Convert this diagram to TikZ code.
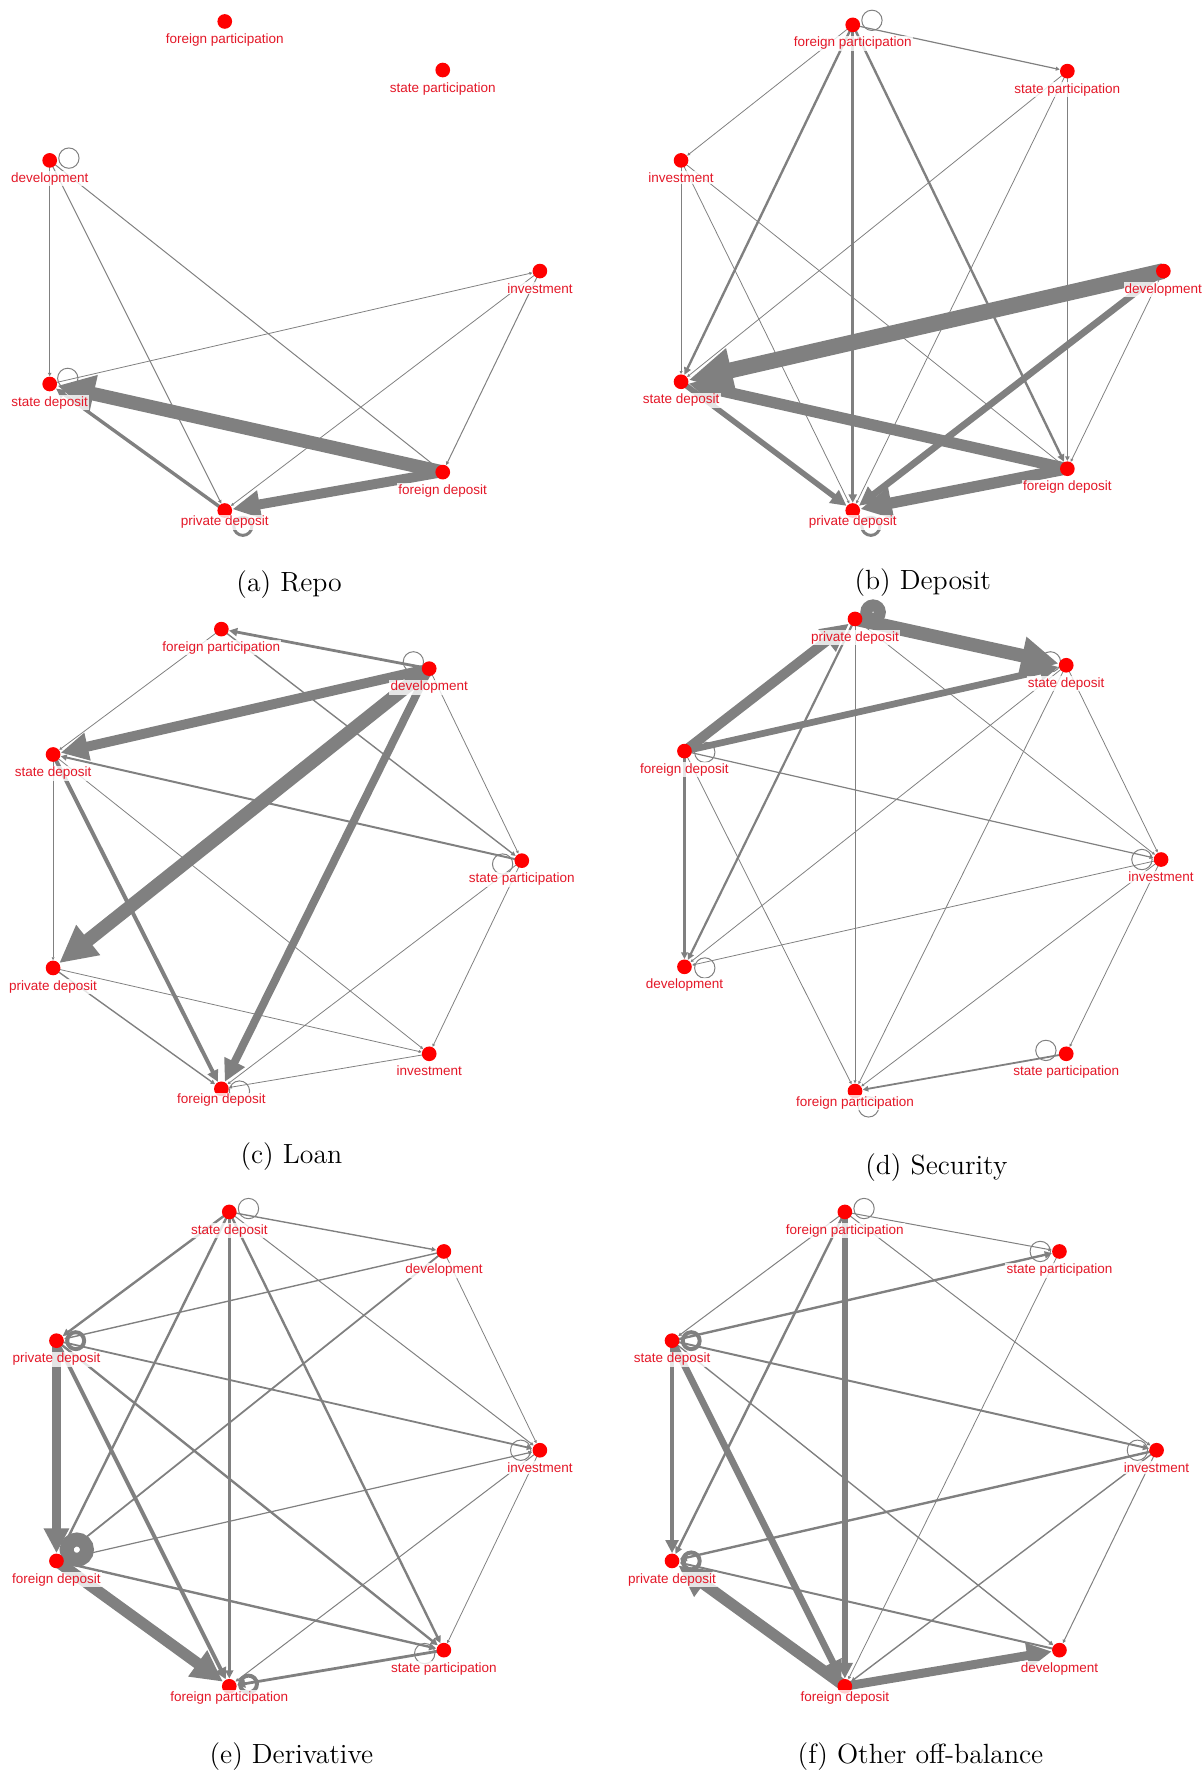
\documentclass[tikz,border=0pt]{standalone}
\usepackage{fontspec}
\newfontfamily\lblfont{Liberation Sans}
\usetikzlibrary{positioning,arrows.meta}
\definecolor{dotred}{RGB}{255,0,0}
\definecolor{txtred}{RGB}{228,24,40}
\definecolor{edgegray}{RGB}{128,128,128}
\pgfdeclarelayer{bg}
\pgfsetlayers{bg,main}
\tikzset{
   dot/.style={circle, fill=dotred, inner sep=0pt, minimum size=0.26cm},
   lbl/.style={font=\lblfont\fontsize{6.8}{8}\selectfont, text=txtred, fill=white,
      fill opacity=0.8, text opacity=1, inner sep=0.6pt},
   link/.style={draw=edgegray, line width=#1pt, -{Triangle[length=0.4pt 2.7, width=0.4pt 2.6]}},
   selfloop/.style={draw=edgegray, line width=#1pt},
   captext/.style={font=\fontsize{14}{16}\selectfont},
}
\begin{document}
\begin{tikzpicture}[x=0.02cm, y=-0.02cm]
   \useasboundingbox (0,0) rectangle (1064,1568);

   % (a) Repo
   \foreach \n/\x/\y/\t/\g in {fp/199/19/foreign participation/1.5pt, sp/392/62/state participation/1.5pt,
         dev/44/142/development/1.5pt, inv/478/240/investment/1.5pt, sd/44/340/state deposit/1.5pt,
         fd/392/418/foreign deposit/1.5pt, pd/199/452/private deposit/-2pt} {
      \node[dot] (a-\n) at (\x,\y) {};
      \node[lbl, below=\g of a-\n] (a-\n-l) {\t};
   }
   \begin{pgfonlayer}{bg}
      \foreach \s/\t/\w in {fd/sd/6.8, fd/pd/5, pd/sd/1.7, dev/sd/0.5, dev/pd/0.5, dev/fd/0.5,
            sd/inv/0.4, inv/pd/0.4, inv/fd/0.5}
         \draw[link=\w] (a-\s.center) -- (a-\t);
      \draw[selfloop=0.5] ([shift={(17,-2)}]a-dev.center) circle[radius=0.18cm];
      \draw[selfloop=0.5] ([shift={(16,-5)}]a-sd.center) circle[radius=0.18cm];
      \draw[selfloop=1.5] ([shift={(16,14)}]a-pd.center) circle[radius=0.16cm];
   \end{pgfonlayer}
   \node[captext] (cap-a) at (256,518) {(a) Repo};

   % (b) Deposit
   \foreach \n/\x/\y/\t/\g in {fp/755/22/foreign participation/1.5pt, sp/945/63/state participation/1.5pt,
         inv/603/142/investment/1.5pt, dev/1030/240/development/1.5pt, sd/603/338/state deposit/1.5pt,
         fd/945/415/foreign deposit/1.5pt, pd/755/452/private deposit/-2pt} {
      \node[dot] (b-\n) at (\x,\y) {};
      \node[lbl, below=\g of b-\n] (b-\n-l) {\t};
   }
   \begin{pgfonlayer}{bg}
      \foreach \s/\t/\w in {dev/sd/8, fd/sd/5.7, fd/pd/5.7, dev/pd/3.4, sd/pd/2.8, fp/pd/1.4, fp/sd/1.2,
            fp/fd/1.2, sp/fd/0.7, fp/sp/0.6, fp/inv/0.4, sp/sd/0.4, sp/pd/0.4, inv/sd/0.4, inv/pd/0.4,
            inv/fd/0.4, dev/fd/0.4}
         \draw[link=\w] (b-\s.center) -- (b-\t);
      \draw[selfloop=0.5] ([shift={(17,-4)}]b-fp.center) circle[radius=0.18cm];
      \draw[selfloop=1.5] ([shift={(16,14)}]b-pd.center) circle[radius=0.16cm];
   \end{pgfonlayer}
   \node[captext] (cap-b) at (817,516) {(b) Deposit};

   % (c) Loan
   \foreach \n/\x/\y/\t/\g in {fp/196/557/foreign participation/1.5pt, dev/380/592/development/1.5pt,
         sd/47/668/state deposit/1.5pt, sp/462/762/state participation/1.5pt, pd/47/857/private deposit/1.5pt,
         inv/380/933/investment/1.5pt, fd/196/964/foreign deposit/-2pt} {
      \node[dot] (c-\n) at (\x,\y) {};
      \node[lbl, below=\g of c-\n] (c-\n-l) {\t};
   }
   \begin{pgfonlayer}{bg}
      \foreach \s/\t/\w in {dev/pd/6.8, dev/sd/5, dev/fd/4, sd/fd/2, dev/fp/1.4, sp/sd/1, fp/sp/0.7,
            pd/fd/0.7, fp/sd/0.4, dev/sp/0.4, sd/pd/0.4, sd/inv/0.4, sp/fd/0.4, sp/inv/0.4, pd/inv/0.4,
            inv/fd/0.4}
         \draw[link=\w] (c-\s.center) -- (c-\t);
      \draw[selfloop=0.5] ([shift={(-14,-6)}]c-dev.center) circle[radius=0.18cm];
      \draw[selfloop=0.5] ([shift={(-17,3)}]c-sp.center) circle[radius=0.18cm];
      \draw[selfloop=0.5] ([shift={(16,2)}]c-fd.center) circle[radius=0.18cm];
   \end{pgfonlayer}
   \node[captext] (cap-c) at (258,1024) {(c) Loan};

   % (d) Security
   \foreach \n/\x/\y/\t/\g in {pd/757/548/private deposit/1.5pt, sd/944/589/state deposit/1.5pt,
         fd/606/665/foreign deposit/1.5pt, inv/1028/761/investment/1.5pt, dev/606/856/development/1.5pt,
         sp/944/933/state participation/1.5pt, fp/757/966/foreign participation/-2pt} {
      \node[dot] (d-\n) at (\x,\y) {};
      \node[lbl, below=\g of d-\n] (d-\n-l) {\t};
   }
   \begin{pgfonlayer}{bg}
      \foreach \s/\t/\w in {pd/sd/6.8, fd/pd/5, fd/sd/3.4, pd/dev/1.1, fd/dev/1.1, sp/fp/0.9, fd/inv/0.6,
            pd/fp/0.4, pd/inv/0.4, sd/dev/0.4, sd/fp/0.4, sd/inv/0.4, fd/fp/0.4, inv/dev/0.4, inv/fp/0.4,
            inv/sp/0.4}
         \draw[link=\w] (d-\s.center) -- (d-\t);
      \draw[selfloop=6] ([shift={(16,-6)}]d-pd.center) circle[radius=0.12cm];
      \draw[selfloop=0.5] ([shift={(-14,-3)}]d-sd.center) circle[radius=0.18cm];
      \draw[selfloop=0.5] ([shift={(18,1)}]d-fd.center) circle[radius=0.18cm];
      \draw[selfloop=0.5] ([shift={(-17,0)}]d-inv.center) circle[radius=0.18cm];
      \draw[selfloop=0.5] ([shift={(18,1)}]d-dev.center) circle[radius=0.18cm];
      \draw[selfloop=0.5] ([shift={(-18,-3)}]d-sp.center) circle[radius=0.18cm];
      \draw[selfloop=0.5] ([shift={(12,14)}]d-fp.center) circle[radius=0.18cm];
   \end{pgfonlayer}
   \node[captext] (cap-d) at (829,1034) {(d) Security};

   % (e) Derivative
   \foreach \n/\x/\y/\t/\g in {sd/203/1073/state deposit/1.5pt, dev/393/1108/development/1.5pt,
         pd/50/1187/private deposit/1.5pt, inv/478/1284/investment/1.5pt, fd/50/1382/foreign deposit/1.5pt,
         sp/393/1461/state participation/1.5pt, fp/203/1493/foreign participation/-2pt} {
      \node[dot] (e-\n) at (\x,\y) {};
      \node[lbl, below=\g of e-\n] (e-\n-l) {\t};
   }
   \begin{pgfonlayer}{bg}
      \foreach \s/\t/\w in {fd/fp/5.7, pd/fd/4.5, pd/fp/2, sd/fp/1.4, sp/fp/1.4, sd/pd/1.2, sd/fd/1.2,
            sd/sp/1.2, pd/sp/1.2, fd/sp/1.2, dev/fd/0.9, pd/inv/0.9, dev/pd/0.7, sd/dev/0.7, fd/inv/0.6,
            sd/inv/0.5, dev/inv/0.4, inv/sp/0.4, inv/fp/0.5}
         \draw[link=\w] (e-\s.center) -- (e-\t);
      \draw[selfloop=0.5] ([shift={(17,-3)}]e-sd.center) circle[radius=0.18cm];
      \draw[selfloop=2] ([shift={(17,0)}]e-pd.center) circle[radius=0.15cm];
      \draw[selfloop=7] ([shift={(18,-10)}]e-fd.center) circle[radius=0.18cm];
      \draw[selfloop=0.5] ([shift={(-17,0)}]e-inv.center) circle[radius=0.18cm];
      \draw[selfloop=0.5] ([shift={(-17,3)}]e-sp.center) circle[radius=0.18cm];
      \draw[selfloop=2] ([shift={(17,-2)}]e-fp.center) circle[radius=0.15cm];
   \end{pgfonlayer}
   \node[captext] (cap-e) at (258,1555) {(e) Derivative};

   % (f) Other off-balance
   \foreach \n/\x/\y/\t/\g in {fp/748/1073/foreign participation/1.5pt, sp/938/1108/state participation/1.5pt,
         sd/595/1187/state deposit/1.5pt, inv/1024/1284/investment/1.5pt, pd/595/1382/private deposit/1.5pt,
         dev/938/1461/development/1.5pt, fd/748/1493/foreign deposit/-2pt} {
      \node[dot] (f-\n) at (\x,\y) {};
      \node[lbl, below=\g of f-\n] (f-\n-l) {\t};
   }
   \begin{pgfonlayer}{bg}
      \foreach \s/\t/\w in {fd/pd/5.7, fd/dev/4.5, sd/fd/3.4, fp/fd/2.8, sd/pd/2.3, sd/sp/1.2, fp/pd/1.2,
            inv/pd/1.2, sd/inv/1, dev/pd/1, sd/dev/0.7, inv/fd/0.7, fp/sp/0.5, fp/sd/0.5, fp/inv/0.5,
            sp/fd/0.4, inv/dev/0.5}
         \draw[link=\w] (f-\s.center) -- (f-\t);
      \draw[selfloop=0.5] ([shift={(17,-3)}]f-fp.center) circle[radius=0.18cm];
      \draw[selfloop=0.5] ([shift={(-17,0)}]f-sp.center) circle[radius=0.18cm];
      \draw[selfloop=2] ([shift={(17,0)}]f-sd.center) circle[radius=0.15cm];
      \draw[selfloop=0.5] ([shift={(-17,0)}]f-inv.center) circle[radius=0.18cm];
      \draw[selfloop=2] ([shift={(17,0)}]f-pd.center) circle[radius=0.15cm];
   \end{pgfonlayer}
   \node[captext] (cap-f) at (815,1555) {(f) Other off-balance};
\end{tikzpicture}
\end{document}
